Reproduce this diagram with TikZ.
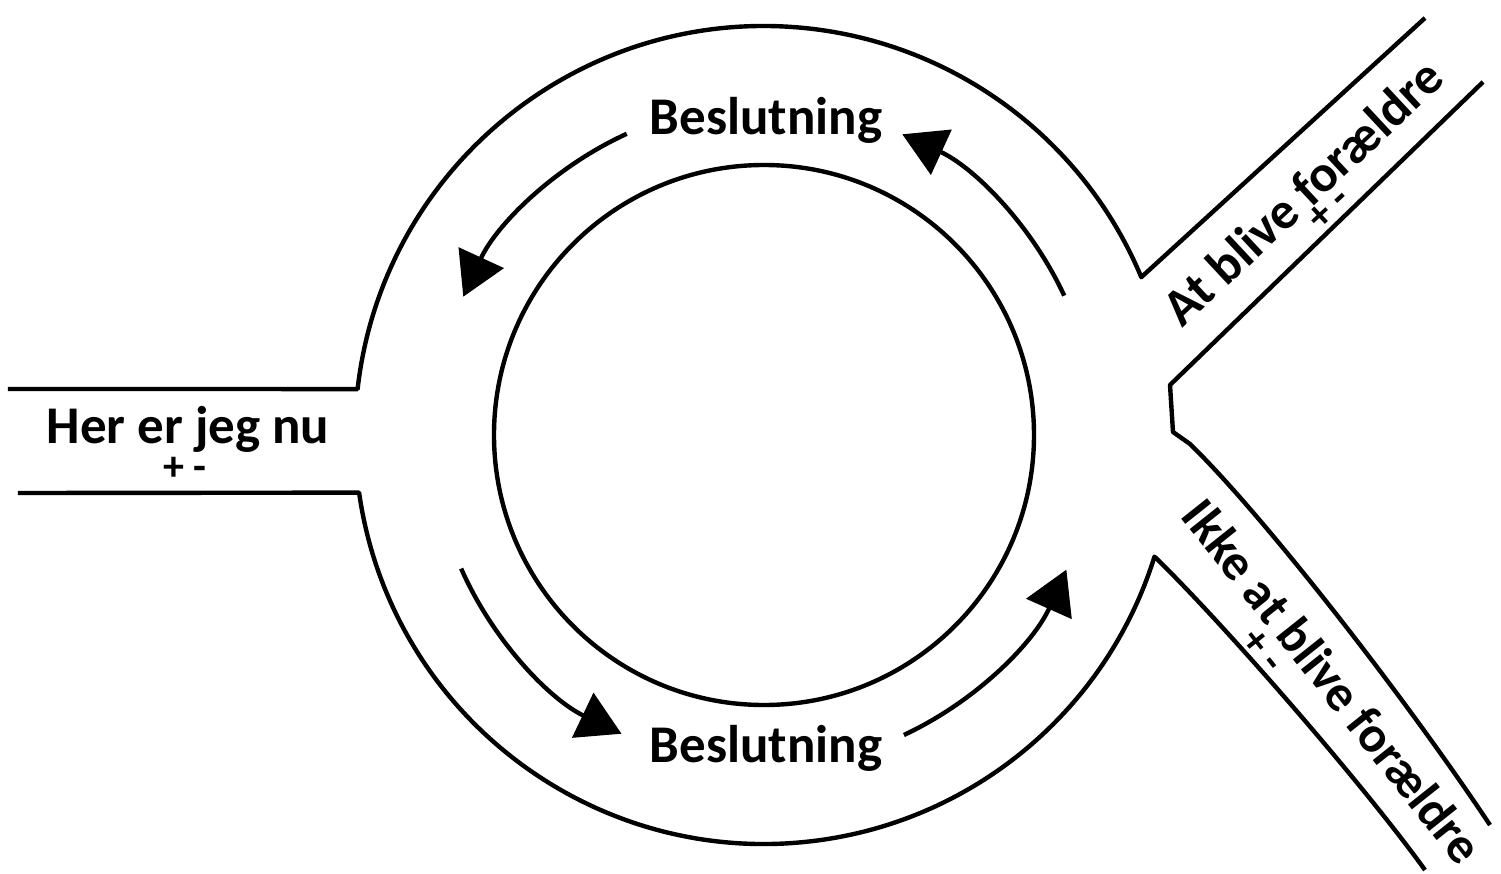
\documentclass[tikz,border=0pt]{standalone}
\usepackage{fontspec}
\setmainfont{Carlito}
\usetikzlibrary{arrows.meta}

\begin{document}
\begin{tikzpicture}[x=1pt, y=1pt, line width=4.4pt,
	road/.style={line join=round},
	flow/.style={-{Triangle[length=43pt, width=49pt]}},
	lbl/.style={font=\fontsize{53}{60}\selectfont\bfseries, inner sep=0pt},
	pm/.style={font=\fontsize{42}{44}\selectfont\bfseries, inner sep=0pt}]
	\useasboundingbox (-764,-438) rectangle (737,435);
	
	% roundabout and roads
	\draw[road] (-756,46) -- (173.55:409) arc[start angle=173.55, end angle=22.7, radius=409] -- (661,417);
	\draw[road] (-746,-58) -- (188.1:409) arc[start angle=188.1, end angle=342.7, radius=409]
		.. controls (456,-185) and (596,-345) .. (661,-435);
	\draw[road] (719,353) -- (406,50) -- (409,3) -- (426,-9) .. controls (496,-77) and (636,-255) .. (726,-390);
	\draw (0,0) circle[radius=270];
	
	% driving direction
	\foreach \a/\b in {114.5/155.3, 24.9/65.3, 203.8/244.5, 295/336}
		\draw[flow] (\a:331) arc[start angle=\a, end angle=\b, radius=331];
	
	\node[lbl, anchor=base] (top) at (2,300) {Beslutning};
	\node[lbl, anchor=base] (bottom) at (2,-327) {Beslutning};
	\node[lbl, anchor=base] (here) at (-576,-8) {Her er jeg nu};
	\node[pm] (herepm) at (-579,-34) {+ -};
	\node[lbl, anchor=base, rotate=43, font=\fontsize{52}{60}\selectfont\bfseries] (yes) at (551,230) {At blive forældre};
	\node[pm, rotate=43] (yespm) at (565,226) {+ -};
	\node[lbl, anchor=base, rotate=-51.5, font=\fontsize{51}{60}\selectfont\bfseries] (no) at (555,-257) {Ikke at blive forældre};
	\node[pm, rotate=-51.5] (nopm) at (498,-216) {+ -};
	
\end{tikzpicture}
\end{document}
